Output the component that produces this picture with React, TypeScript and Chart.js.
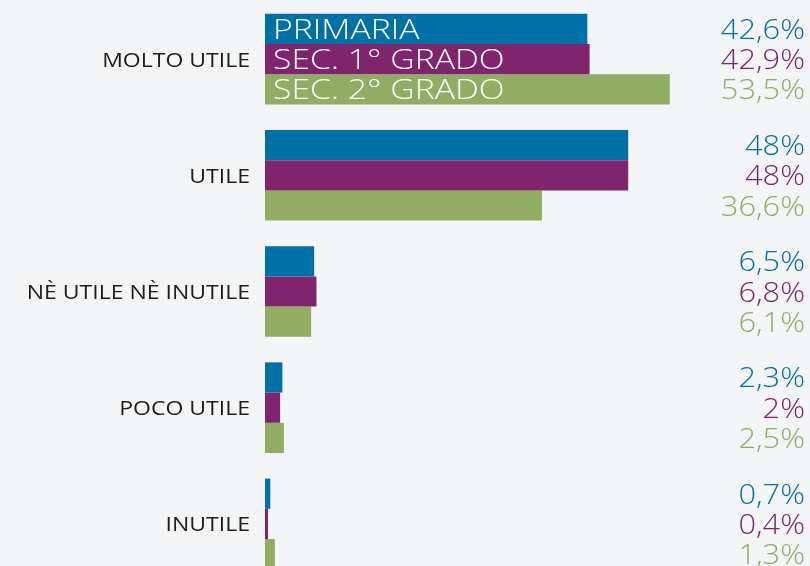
import React, { useEffect, useRef } from "react";
import { Chart, registerables } from "chart.js";

Chart.register(...registerables);

const categories = ["MOLTO UTILE", "UTILE", "NÈ UTILE NÈ INUTILE", "POCO UTILE", "INUTILE"];
const seriesNames = ["PRIMARIA", "SEC. 1° GRADO", "SEC. 2° GRADO"];
const primaria = [42.6, 48, 6.5, 2.3, 0.7];
const sec1 = [42.9, 48, 6.8, 2, 0.4];
const sec2 = [53.5, 36.6, 6.1, 2.5, 1.3];
const seriesColors = ["#0071a7", "#80246e", "#91ad63"];
const xMax = 60;

const fmt = (v: number) => String(v).replace(".", ",") + "%";

function drawWide(ctx: CanvasRenderingContext2D, text: string, x: number, y: number, sx: number, align: "left" | "right") {
  ctx.save();
  ctx.translate(x, y);
  ctx.scale(sx, 1);
  ctx.textAlign = align;
  ctx.fillText(text, 0, 0);
  ctx.restore();
}

const labelPlugin = {
  id: "customLabels",
  afterDatasetsDraw(chart: any) {
    const ctx = chart.ctx;
    const yScale = chart.scales.y;
    ctx.save();
    ctx.textBaseline = "alphabetic";
    ctx.font = "400 19.5px 'Open Sans'";
    ctx.fillStyle = "#1c1c1c";
    categories.forEach((c, i) => {
      const y = yScale.getPixelForValue(i);
      drawWide(ctx, c, 250, y + 7.5, 1.18, "right");
    });
    chart.data.datasets.forEach((ds: any, di: number) => {
      const meta = chart.getDatasetMeta(di);
      meta.data.forEach((el: any, i: number) => {
        const y = el.y;
        ctx.font = "300 27px 'Open Sans'";
        ctx.fillStyle = seriesColors[di];
        drawWide(ctx, fmt(ds.data[i]), 805, y + 10, 1.14, "right");
        if (i === 0) {
          ctx.font = "300 27px 'Open Sans'";
          ctx.fillStyle = "#ffffff";
          drawWide(ctx, seriesNames[di], 273, y + 10, 1.25, "left");
        }
      });
    });
    ctx.restore();
  },
};

export default function App() {
  const ref = useRef<HTMLCanvasElement>(null);
  useEffect(() => {
    const chart = new Chart(ref.current!, {
      type: "bar",
      data: {
        labels: categories,
        datasets: [primaria, sec1, sec2].map((d, i) => ({
          label: seriesNames[i],
          data: d,
          backgroundColor: seriesColors[i],
          borderWidth: 0,
          categoryPercentage: 0.78,
          barPercentage: 1,
        })),
      },
      options: {
        indexAxis: "y",
        animation: false,
        responsive: true,
        maintainAspectRatio: false,
        layout: { padding: { left: 265, right: 91, top: 0, bottom: 0 } },
        plugins: { legend: { display: false }, tooltip: { enabled: false } },
        scales: {
          x: { display: false, min: 0, max: xMax },
          y: { display: false },
        },
      },
      plugins: [labelPlugin],
    });
    return () => chart.destroy();
  }, []);
  return (
    <div
      style={{
        position: "fixed",
        left: 0,
        top: 0,
        width: 810,
        height: 566,
        overflow: "hidden",
        background: "#f4f5f7",
      }}
    >
      <div style={{ position: "absolute", left: 0, top: 1, width: 810, height: 581 }}>
        <canvas ref={ref} />
      </div>
    </div>
  );
}
